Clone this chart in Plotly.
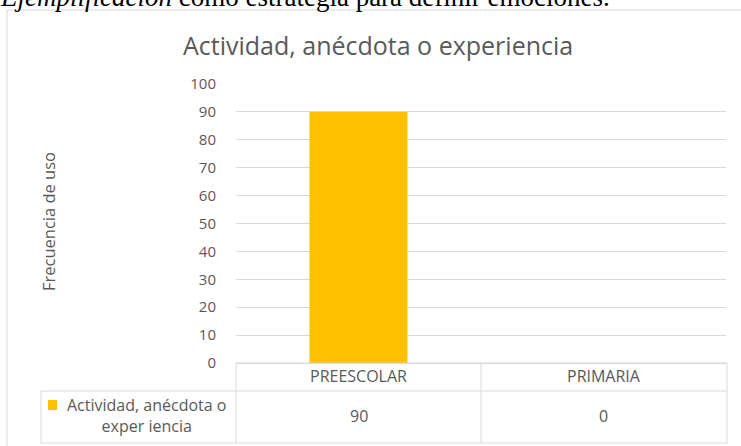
import plotly.graph_objects as go

categories = ["PREESCOLAR", "PRIMARIA"]
values = [90, 0]
series_name = "Actividad, anécdota o experiencia"
legend_label = "Actividad, anécdota o<br>exper iencia"
title_text = "Actividad, anécdota o experiencia"
y_title = "Frecuencia de uso"
y_ticks = [0, 10, 20, 30, 40, 50, 60, 70, 80, 90, 100]
caption = "<i>Ejemplificación</i> como estrategia para definir emociones."

W, H = 741, 446
BAR_COLOR = "#FFC000"
TEXT = "#595959"
LINE = "#d9d9d9"
FONT = "Open Sans"


def px(x):
    return x / W


def py(y):
    return 1 - y / H


fig = go.Figure()
fig.add_trace(go.Bar(x=categories, y=values, name=series_name,
                     marker=dict(color=BAR_COLOR, line=dict(width=0)),
                     width=0.4, showlegend=False))

fig.update_layout(
    width=W, height=H,
    margin=dict(l=0, r=0, t=0, b=0, pad=0, autoexpand=False),
    showlegend=False,
    paper_bgcolor="white", plot_bgcolor="white",
    xaxis=dict(domain=[px(236), px(726)], range=[-0.5, 1.5],
               showticklabels=False, showgrid=False, zeroline=False,
               showline=False, fixedrange=True, automargin=False),
    yaxis=dict(domain=[py(363), py(84)], range=[0, 100],
               tickvals=y_ticks, showgrid=True, gridcolor=LINE, gridwidth=1,
               zeroline=True, zerolinecolor=LINE, zerolinewidth=1,
               showline=False, ticks="", ticklabelstandoff=19, automargin=False,
               tickfont=dict(family=FONT, size=15, color=TEXT)),
    font=dict(family=FONT, color=TEXT),
)

shapes = []


def line(x0, y0, x1, y1, color=LINE, w=1):
    shapes.append(dict(type="line", xref="paper", yref="paper",
                       x0=px(x0), y0=py(y0), x1=px(x1), y1=py(y1),
                       line=dict(color=color, width=w)))


# outer chart frame (continues off the page on the right and bottom)
line(7, 10, 741, 10)
line(7, 10, 7, 446)
# data table
line(236, 363, 727, 363)
line(41, 391, 727, 391)
line(41, 443, 727, 443)
line(41, 391, 41, 443)
line(236, 363, 236, 443)
line(481, 363, 481, 443)
line(727, 363, 727, 443)
# legend key
shapes.append(dict(type="rect", xref="paper", yref="paper",
                   x0=px(48), x1=px(57), y0=py(410), y1=py(400),
                   fillcolor=BAR_COLOR, line=dict(width=0)))
fig.update_layout(shapes=shapes)

ann = []
ann.append(dict(text=caption, xref="paper", yref="paper", x=px(-2), y=py(-3),
                xanchor="left", yanchor="middle", showarrow=False,
                font=dict(family="Liberation Serif", size=27, color="black")))
ann.append(dict(text=title_text, xref="paper", yref="paper", x=px(378), y=py(45),
                xanchor="center", yanchor="middle", showarrow=False,
                font=dict(family=FONT, size=25, color=TEXT)))
ann.append(dict(text=y_title, xref="paper", yref="paper", x=px(48), y=py(222),
                xanchor="center", yanchor="middle", textangle=-90, showarrow=False,
                font=dict(family=FONT, size=16.5, color=TEXT)))
for c, v in zip(categories, values):
    ann.append(dict(text=c, xref="x", yref="paper", x=c, y=py(376),
                    xanchor="center", yanchor="middle", showarrow=False,
                    font=dict(family=FONT, size=16, color=TEXT)))
    ann.append(dict(text=str(v), xref="x", yref="paper", x=c, y=py(416),
                    xanchor="center", yanchor="middle", showarrow=False,
                    font=dict(family=FONT, size=16, color=TEXT)))
ann.append(dict(text=legend_label, xref="paper", yref="paper", x=px(146), y=py(415),
                xanchor="center", yanchor="middle", showarrow=False, align="center",
                font=dict(family=FONT, size=16, color=TEXT)))
fig.update_layout(annotations=ann)

fig.write_html("out.html", config={"displayModeBar": False},
               post_script="document.body.style.margin='0';document.body.style.overflow='hidden';")
